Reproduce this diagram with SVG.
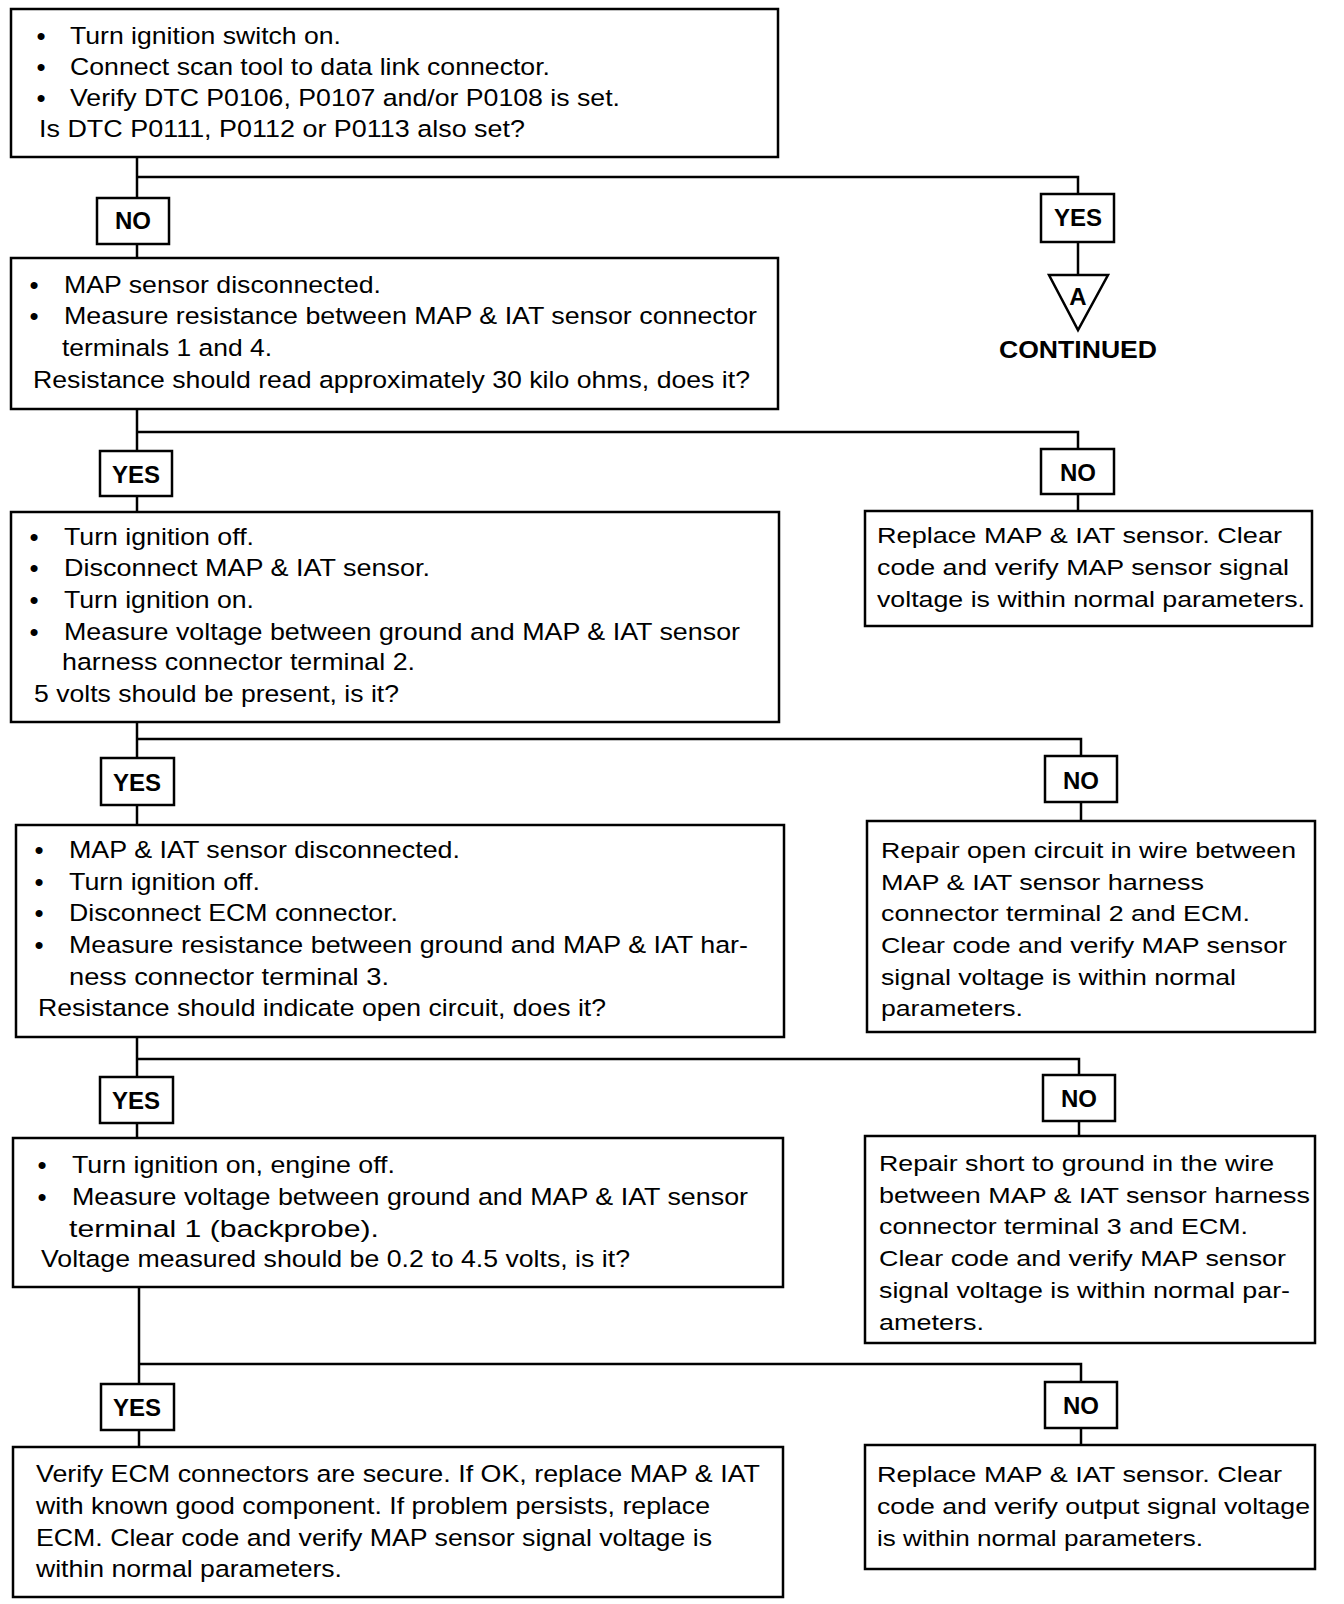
<svg xmlns="http://www.w3.org/2000/svg" width="1344" height="1604" viewBox="0 0 1344 1604">
<style>
.box{fill:#fff;stroke:#000;stroke-width:2.5}
.ln{fill:none;stroke:#000;stroke-width:2.5}
.t{font-family:"Liberation Sans Narrow","Arial Narrow","Liberation Sans",Arial,sans-serif;font-size:24.5px;fill:#000}
.r{font-family:"Liberation Sans",Arial,Helvetica,sans-serif;font-size:22px;fill:#000}
.bu{font-family:"Liberation Sans",Arial,sans-serif;font-size:26px;fill:#000;text-anchor:middle}
.b{font-family:"Liberation Sans",Arial,Helvetica,sans-serif;font-size:24px;font-weight:bold;fill:#000;text-anchor:middle}
</style>
<rect width="1344" height="1604" fill="#fff"/>
<g id="connectors">
<polyline class="ln" points="137,157 137,198"/>
<polyline class="ln" points="137,177 1078,177 1078,194"/>
<polyline class="ln" points="137,244 137,258"/>
<polyline class="ln" points="1078,242 1078,275"/>
<polyline class="ln" points="137,409 137,451"/>
<polyline class="ln" points="137,432 1078,432 1078,449"/>
<polyline class="ln" points="137,496 137,512"/>
<polyline class="ln" points="1078,494 1078,511"/>
<polyline class="ln" points="137,722 137,758"/>
<polyline class="ln" points="137,739 1081,739 1081,756"/>
<polyline class="ln" points="137,805 137,825"/>
<polyline class="ln" points="1081,802 1081,821"/>
<polyline class="ln" points="137,1037 137,1077"/>
<polyline class="ln" points="137,1059 1079,1059 1079,1075"/>
<polyline class="ln" points="137,1123 137,1138"/>
<polyline class="ln" points="1079,1121 1079,1136"/>
<polyline class="ln" points="139,1287 139,1384"/>
<polyline class="ln" points="139,1364 1081,1364 1081,1382"/>
<polyline class="ln" points="139,1430 139,1447"/>
<polyline class="ln" points="1081,1428 1081,1445"/>
</g>
<g id="n1">
<rect class="box" x="11" y="9" width="767" height="148"/>
<text class="bu" x="41" y="45">•</text><text class="t" x="70" y="44" textLength="271" lengthAdjust="spacingAndGlyphs">Turn ignition switch on.</text>
<text class="bu" x="41" y="76">•</text><text class="t" x="70" y="75" textLength="480" lengthAdjust="spacingAndGlyphs">Connect scan tool to data link connector.</text>
<text class="bu" x="41" y="107">•</text><text class="t" x="70" y="106" textLength="550" lengthAdjust="spacingAndGlyphs">Verify DTC P0106, P0107 and/or P0108 is set.</text>
<text class="t" x="39" y="137" textLength="486" lengthAdjust="spacingAndGlyphs">Is DTC P0111, P0112 or P0113 also set?</text>
</g>
<g id="no1"><rect class="box" x="97" y="198" width="72" height="46"/><text class="b" x="133" y="229">NO</text></g>
<g id="yes1"><rect class="box" x="1041" y="194" width="73" height="48"/><text class="b" x="1078" y="226">YES</text></g>
<g id="contA">
<polygon class="box" points="1049,275 1108,275 1078,330"/>
<text class="b" x="1078" y="305" style="font-size:24px">A</text>
<text class="b" x="1078" y="358" textLength="158" lengthAdjust="spacingAndGlyphs">CONTINUED</text>
</g>
<g id="n2">
<rect class="box" x="11" y="258" width="767" height="151"/>
<text class="bu" x="34" y="294">•</text><text class="t" x="64" y="293" textLength="317" lengthAdjust="spacingAndGlyphs">MAP sensor disconnected.</text>
<text class="bu" x="34" y="325">•</text><text class="t" x="64" y="324" textLength="693" lengthAdjust="spacingAndGlyphs">Measure resistance between MAP &amp; IAT sensor connector</text>
<text class="t" x="62" y="356" textLength="210" lengthAdjust="spacingAndGlyphs">terminals 1 and 4.</text>
<text class="t" x="33" y="388" textLength="717" lengthAdjust="spacingAndGlyphs">Resistance should read approximately 30 kilo ohms, does it?</text>
</g>
<g id="yes2"><rect class="box" x="100" y="451" width="72" height="45"/><text class="b" x="136" y="483">YES</text></g>
<g id="no2"><rect class="box" x="1041" y="449" width="73" height="45"/><text class="b" x="1078" y="481">NO</text></g>
<g id="r1">
<rect class="box" x="865" y="511" width="447" height="115"/>
<text class="r" x="877" y="543" textLength="405" lengthAdjust="spacingAndGlyphs">Replace MAP &amp; IAT sensor. Clear</text>
<text class="r" x="877" y="575" textLength="412" lengthAdjust="spacingAndGlyphs">code and verify MAP sensor signal</text>
<text class="r" x="877" y="607" textLength="428" lengthAdjust="spacingAndGlyphs">voltage is within normal parameters.</text>
</g>
<g id="n3">
<rect class="box" x="11" y="512" width="768" height="210"/>
<text class="bu" x="34" y="546">•</text><text class="t" x="64" y="545" textLength="190" lengthAdjust="spacingAndGlyphs">Turn ignition off.</text>
<text class="bu" x="34" y="577">•</text><text class="t" x="64" y="576" textLength="366" lengthAdjust="spacingAndGlyphs">Disconnect MAP &amp; IAT sensor.</text>
<text class="bu" x="34" y="609">•</text><text class="t" x="64" y="608" textLength="190" lengthAdjust="spacingAndGlyphs">Turn ignition on.</text>
<text class="bu" x="34" y="641">•</text><text class="t" x="64" y="640" textLength="676" lengthAdjust="spacingAndGlyphs">Measure voltage between ground and MAP &amp; IAT sensor</text>
<text class="t" x="62" y="670" textLength="353" lengthAdjust="spacingAndGlyphs">harness connector terminal 2.</text>
<text class="t" x="34" y="702" textLength="365" lengthAdjust="spacingAndGlyphs">5 volts should be present, is it?</text>
</g>
<g id="yes3"><rect class="box" x="101" y="758" width="73" height="47"/><text class="b" x="137" y="791">YES</text></g>
<g id="no3"><rect class="box" x="1045" y="756" width="72" height="46"/><text class="b" x="1081" y="789">NO</text></g>
<g id="r2">
<rect class="box" x="867" y="821" width="448" height="211"/>
<text class="r" x="881" y="858" textLength="415" lengthAdjust="spacingAndGlyphs">Repair open circuit in wire between</text>
<text class="r" x="881" y="890" textLength="323" lengthAdjust="spacingAndGlyphs">MAP &amp; IAT sensor harness</text>
<text class="r" x="881" y="921" textLength="369" lengthAdjust="spacingAndGlyphs">connector terminal 2 and ECM.</text>
<text class="r" x="881" y="953" textLength="406" lengthAdjust="spacingAndGlyphs">Clear code and verify MAP sensor</text>
<text class="r" x="881" y="985" textLength="355" lengthAdjust="spacingAndGlyphs">signal voltage is within normal</text>
<text class="r" x="881" y="1016" textLength="142" lengthAdjust="spacingAndGlyphs">parameters.</text>
</g>
<g id="n4">
<rect class="box" x="16" y="825" width="768" height="212"/>
<text class="bu" x="39" y="859">•</text><text class="t" x="69" y="858" textLength="391" lengthAdjust="spacingAndGlyphs">MAP &amp; IAT sensor disconnected.</text>
<text class="bu" x="39" y="891">•</text><text class="t" x="69" y="890" textLength="191" lengthAdjust="spacingAndGlyphs">Turn ignition off.</text>
<text class="bu" x="39" y="922">•</text><text class="t" x="69" y="921" textLength="329" lengthAdjust="spacingAndGlyphs">Disconnect ECM connector.</text>
<text class="bu" x="39" y="954">•</text><text class="t" x="69" y="953" textLength="679" lengthAdjust="spacingAndGlyphs">Measure resistance between ground and MAP &amp; IAT har-</text>
<text class="t" x="69" y="985" textLength="320" lengthAdjust="spacingAndGlyphs">ness connector terminal 3.</text>
<text class="t" x="38" y="1016" textLength="568" lengthAdjust="spacingAndGlyphs">Resistance should indicate open circuit, does it?</text>
</g>
<g id="yes4"><rect class="box" x="100" y="1077" width="73" height="46"/><text class="b" x="136" y="1109">YES</text></g>
<g id="no4"><rect class="box" x="1043" y="1075" width="72" height="46"/><text class="b" x="1079" y="1107">NO</text></g>
<g id="r3">
<rect class="box" x="865" y="1136" width="450" height="207"/>
<text class="r" x="879" y="1171" textLength="395" lengthAdjust="spacingAndGlyphs">Repair short to ground in the wire</text>
<text class="r" x="879" y="1203" textLength="431" lengthAdjust="spacingAndGlyphs">between MAP &amp; IAT sensor harness</text>
<text class="r" x="879" y="1234" textLength="369" lengthAdjust="spacingAndGlyphs">connector terminal 3 and ECM.</text>
<text class="r" x="879" y="1266" textLength="407" lengthAdjust="spacingAndGlyphs">Clear code and verify MAP sensor</text>
<text class="r" x="879" y="1298" textLength="411" lengthAdjust="spacingAndGlyphs">signal voltage is within normal par-</text>
<text class="r" x="879" y="1330" textLength="105" lengthAdjust="spacingAndGlyphs">ameters.</text>
</g>
<g id="n5">
<rect class="box" x="13" y="1138" width="770" height="149"/>
<text class="bu" x="42" y="1174">•</text><text class="t" x="72" y="1173" textLength="323" lengthAdjust="spacingAndGlyphs">Turn ignition on, engine off.</text>
<text class="bu" x="42" y="1206">•</text><text class="t" x="72" y="1205" textLength="676" lengthAdjust="spacingAndGlyphs">Measure voltage between ground and MAP &amp; IAT sensor</text>
<text class="t" x="69" y="1237" textLength="310" lengthAdjust="spacingAndGlyphs">terminal 1 (backprobe).</text>
<text class="t" x="41" y="1267" textLength="589" lengthAdjust="spacingAndGlyphs">Voltage measured should be 0.2 to 4.5 volts, is it?</text>
</g>
<g id="yes5"><rect class="box" x="101" y="1384" width="73" height="46"/><text class="b" x="137" y="1416">YES</text></g>
<g id="no5"><rect class="box" x="1045" y="1382" width="72" height="46"/><text class="b" x="1081" y="1414">NO</text></g>
<g id="n6">
<rect class="box" x="13" y="1447" width="770" height="150"/>
<text class="t" x="36" y="1482" textLength="724" lengthAdjust="spacingAndGlyphs">Verify ECM connectors are secure. If OK, replace MAP &amp; IAT</text>
<text class="t" x="36" y="1514" textLength="674" lengthAdjust="spacingAndGlyphs">with known good component. If problem persists, replace</text>
<text class="t" x="36" y="1546" textLength="676" lengthAdjust="spacingAndGlyphs">ECM. Clear code and verify MAP sensor signal voltage is</text>
<text class="t" x="36" y="1577" textLength="306" lengthAdjust="spacingAndGlyphs">within normal parameters.</text>
</g>
<g id="r4">
<rect class="box" x="865" y="1445" width="450" height="124"/>
<text class="r" x="877" y="1482" textLength="405" lengthAdjust="spacingAndGlyphs">Replace MAP &amp; IAT sensor. Clear</text>
<text class="r" x="877" y="1514" textLength="433" lengthAdjust="spacingAndGlyphs">code and verify output signal voltage</text>
<text class="r" x="877" y="1546" textLength="326" lengthAdjust="spacingAndGlyphs">is within normal parameters.</text>
</g>
</svg>
